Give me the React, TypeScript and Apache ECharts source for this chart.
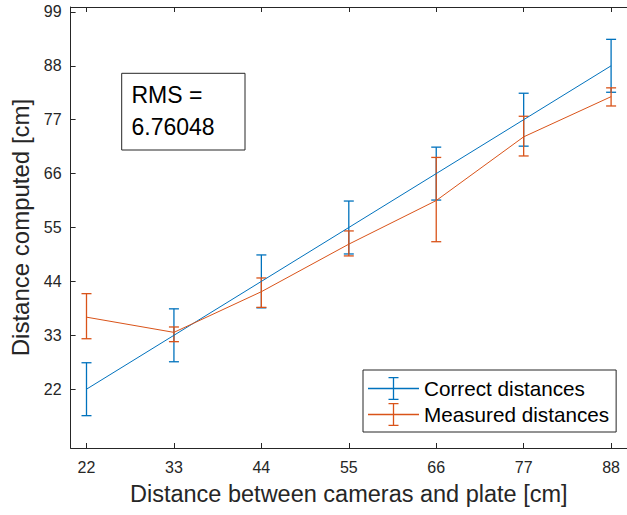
import React, { useEffect, useRef } from "react";
import * as echarts from "echarts";

const FONT = "'Liberation Sans', Arial, Helvetica, sans-serif";
const AXIS_COLOR = "#262626";
const BLUE = "#0072BD";
const ORANGE = "#D95319";

// Data
const distances = [22, 33, 44, 55, 66, 77, 88];
const correctValues = [22, 33, 44, 55, 66, 77, 88];
const correctErr = [5.4, 5.4, 5.4, 5.4, 5.4, 5.4, 5.4];
const measuredValues = [36.7, 33.6, 41.9, 51.6, 60.5, 73.5, 81.7];
const measuredLow = [32.3, 31.7, 38.7, 49.2, 52.1, 69.6, 79.8];
const measuredHigh = [41.5, 34.7, 44.7, 54.3, 69.3, 77.7, 83.5];
const xTicks = [22, 33, 44, 55, 66, 77, 88];
const yTicks = [22, 33, 44, 55, 66, 77, 88, 99];
const rmsText = "RMS =\n6.76048";

const LEGEND_ICON =
  "path://M0,10.85H51V12.15H0Z M24.85,0H26.15V23H24.85Z M20.5,0H30.5V1.3H20.5Z M20.5,21.7H30.5V23H20.5Z";

function errorBarRenderer(color: string) {
  return (params: any, api: any) => {
    const x = api.value(0);
    const lo = api.value(1);
    const hi = api.value(2);
    const top = api.coord([x, hi]);
    const bot = api.coord([x, lo]);
    const half = 5;
    const style = { stroke: color, lineWidth: 1.3 };
    return {
      type: "group",
      children: [
        { type: "line", shape: { x1: top[0], y1: top[1], x2: bot[0], y2: bot[1] }, style },
        { type: "line", shape: { x1: top[0] - half, y1: top[1], x2: top[0] + half, y2: top[1] }, style },
        { type: "line", shape: { x1: bot[0] - half, y1: bot[1], x2: bot[0] + half, y2: bot[1] }, style },
      ],
    };
  };
}

export default function App() {
  const ref = useRef<HTMLDivElement>(null);

  useEffect(() => {
    if (!ref.current) return;
    const chart = echarts.init(ref.current, null, { renderer: "svg" });

    const correctLine = distances.map((d, i) => [d, correctValues[i]]);
    const measuredLine = distances.map((d, i) => [d, measuredValues[i]]);
    const correctBars = distances.map((d, i) => [d, correctValues[i] - correctErr[i], correctValues[i] + correctErr[i]]);
    const measuredBars = distances.map((d, i) => [d, measuredLow[i], measuredHigh[i]]);

    const axisLineStyle = { color: AXIS_COLOR, width: 1 };

    chart.setOption({
      animation: false,
      backgroundColor: "#ffffff",
      textStyle: { fontFamily: FONT },
      grid: { left: 70.6, right: -6, top: 7, bottom: 67, containLabel: false },
      xAxis: [
        {
          type: "value",
          position: "bottom",
          min: 20,
          max: 90,
          axisLine: { show: true, onZero: false, lineStyle: axisLineStyle },
          axisTick: { show: true, inside: true, length: 5, customValues: xTicks, lineStyle: axisLineStyle },
          axisLabel: { customValues: xTicks, fontSize: 16, color: AXIS_COLOR, margin: 11, fontFamily: FONT },
          splitLine: { show: false },
          name: "Distance between cameras and plate [cm]",
          nameLocation: "middle",
          nameGap: 34,
          nameTextStyle: { fontSize: 23.5, color: AXIS_COLOR, fontFamily: FONT },
        },
        {
          type: "value",
          position: "top",
          min: 20,
          max: 90,
          axisLine: { show: true, onZero: false, lineStyle: axisLineStyle },
          axisTick: { show: true, inside: true, length: 5, customValues: xTicks, lineStyle: axisLineStyle },
          axisLabel: { show: false },
          splitLine: { show: false },
        },
      ],
      yAxis: [
        {
          type: "value",
          min: 10,
          max: 100,
          axisLine: { show: true, onZero: false, lineStyle: axisLineStyle },
          axisTick: { show: true, inside: true, length: 5, customValues: yTicks, lineStyle: axisLineStyle },
          axisLabel: { customValues: yTicks, fontSize: 16, color: AXIS_COLOR, margin: 9, fontFamily: FONT },
          splitLine: { show: false },
          name: "Distance computed [cm]",
          nameLocation: "middle",
          nameGap: 31,
          nameTextStyle: { fontSize: 24, color: AXIS_COLOR, fontFamily: FONT },
        },
      ],
      legend: {
        orient: "vertical",
        left: 363,
        top: 370,
        itemWidth: 51,
        itemHeight: 23,
        itemGap: 3,
        padding: [7, 7, 6, 5],
        borderColor: AXIS_COLOR,
        borderWidth: 1,
        backgroundColor: "#ffffff",
        selectedMode: false,
        textStyle: { fontSize: 20.7, color: "#000000", fontFamily: FONT },
        data: [
          { name: "Correct distances", icon: LEGEND_ICON, itemStyle: { color: BLUE } },
          { name: "Measured distances", icon: LEGEND_ICON, itemStyle: { color: ORANGE } },
        ],
      },
      graphic: [
        {
          type: "group",
          z: 100,
          children: [
            {
              type: "rect",
              shape: { x: 121.7, y: 73.3, width: 123.3, height: 76.7 },
              style: { fill: "#ffffff", stroke: AXIS_COLOR, lineWidth: 1 },
            },
            {
              type: "text",
              x: 131.5,
              y: 78.7,
              style: {
                text: rmsText,
                fontSize: 23,
                lineHeight: 32,
                fontFamily: FONT,
                fill: "#000000",
                verticalAlign: "top",
              },
            },
          ],
        },
      ],
      series: [
        {
          name: "Correct distances",
          type: "line",
          data: correctLine,
          symbol: "none",
          color: BLUE,
          lineStyle: { color: BLUE, width: 1 },
          itemStyle: { color: BLUE },
        },
        {
          name: "Measured distances",
          type: "line",
          data: measuredLine,
          symbol: "none",
          color: ORANGE,
          lineStyle: { color: ORANGE, width: 1 },
          itemStyle: { color: ORANGE },
        },
        {
          name: "Correct error",
          type: "custom",
          data: correctBars,
          encode: { x: 0, y: [1, 2] },
          renderItem: errorBarRenderer(BLUE),
        },
        {
          name: "Measured error",
          type: "custom",
          data: measuredBars,
          encode: { x: 0, y: [1, 2] },
          renderItem: errorBarRenderer(ORANGE),
        },
      ],
    });

    return () => {
      chart.dispose();
    };
  }, []);

  return (
    <div
      ref={ref}
      style={{ position: "absolute", left: 0, top: 0, width: 627, height: 515 }}
    />
  );
}
